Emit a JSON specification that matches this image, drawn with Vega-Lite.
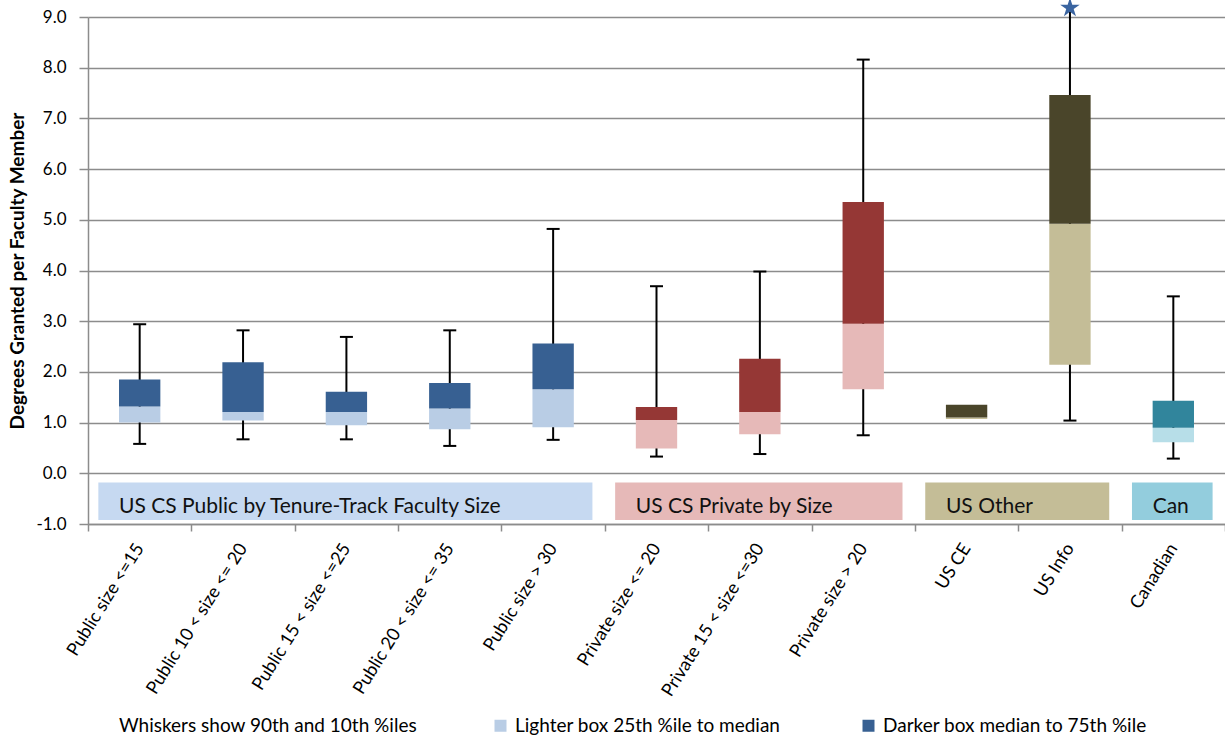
{
  "$schema": "https://vega.github.io/schema/vega-lite/v6.json",
  "width": 1137,
  "height": 507,
  "autosize": "none",
  "padding": {"left": 88, "top": 17, "right": 0, "bottom": 215},
  "background": "white",
  "config": {
    "view": {"stroke": null},
    "font": "Lato",
    "axisX": {
      "labelAngle": -58,
      "labelFontSize": 18,
      "labelColor": "#000",
      "labelLimit": 300,
      "labelPadding": 14,
      "tickBand": "extent",
      "tickSize": 7,
      "tickColor": "#8c8c8c",
      "tickWidth": 1.5,
      "domainColor": "#8c8c8c",
      "domainWidth": 1.5,
      "grid": false
    },
    "axisY": {
      "values": [-1, 0, 1, 2, 3, 4, 5, 6, 7, 8, 9],
      "format": ".1f",
      "labelExpr": "replace(datum.label, '\u2212', '-')",
      "labelFontSize": 17,
      "labelColor": "#000",
      "labelPadding": 13,
      "tickSize": 9,
      "tickColor": "#8c8c8c",
      "tickWidth": 1.5,
      "domainColor": "#8c8c8c",
      "domainWidth": 1.5,
      "grid": true,
      "gridColor": "#8c8c8c",
      "gridWidth": 1.4,
      "gridOpacity": 1,
      "titleFontSize": 19,
      "titleFontWeight": "bold",
      "titleColor": "#000",
      "titlePadding": 8
    }
  },
  "datasets": {
    "whiskers": [
      {"cat": "Public size <=15", "p10": 0.58, "p90": 2.94},
      {"cat": "Public 10 < size <= 20", "p10": 0.67, "p90": 2.82},
      {"cat": "Public 15 < size <=25", "p10": 0.67, "p90": 2.69},
      {"cat": "Public 20 < size <= 35", "p10": 0.54, "p90": 2.82},
      {"cat": "Public size > 30", "p10": 0.66, "p90": 4.82},
      {"cat": "Private size <= 20", "p10": 0.33, "p90": 3.69},
      {"cat": "Private 15 < size <=30", "p10": 0.38, "p90": 3.98},
      {"cat": "Private size > 20", "p10": 0.75, "p90": 8.16},
      {"cat": "US CE", "p10": null, "p90": null},
      {"cat": "US Info", "p10": 1.04, "p90": 9.18},
      {"cat": "Canadian", "p10": 0.29, "p90": 3.49}
    ],
    "segments": [
      {"cat": "Public size <=15", "part": "Lighter box  25th %ile to median", "lo": 1.00, "hi": 1.32},
      {"cat": "Public size <=15", "part": "Darker box  median to 75th %ile", "lo": 1.32, "hi": 1.85},
      {"cat": "Public 10 < size <= 20", "part": "Lighter box  25th %ile to median", "lo": 1.04, "hi": 1.21},
      {"cat": "Public 10 < size <= 20", "part": "Darker box  median to 75th %ile", "lo": 1.21, "hi": 2.19},
      {"cat": "Public 15 < size <=25", "part": "Lighter box  25th %ile to median", "lo": 0.95, "hi": 1.21},
      {"cat": "Public 15 < size <=25", "part": "Darker box  median to 75th %ile", "lo": 1.21, "hi": 1.61},
      {"cat": "Public 20 < size <= 35", "part": "Lighter box  25th %ile to median", "lo": 0.87, "hi": 1.28},
      {"cat": "Public 20 < size <= 35", "part": "Darker box  median to 75th %ile", "lo": 1.28, "hi": 1.78},
      {"cat": "Public size > 30", "part": "Lighter box  25th %ile to median", "lo": 0.91, "hi": 1.66},
      {"cat": "Public size > 30", "part": "Darker box  median to 75th %ile", "lo": 1.66, "hi": 2.56},
      {"cat": "Private size <= 20", "part": "Private lighter", "lo": 0.49, "hi": 1.05},
      {"cat": "Private size <= 20", "part": "Private darker", "lo": 1.05, "hi": 1.31},
      {"cat": "Private 15 < size <=30", "part": "Private lighter", "lo": 0.77, "hi": 1.21},
      {"cat": "Private 15 < size <=30", "part": "Private darker", "lo": 1.21, "hi": 2.26},
      {"cat": "Private size > 20", "part": "Private lighter", "lo": 1.66, "hi": 2.95},
      {"cat": "Private size > 20", "part": "Private darker", "lo": 2.95, "hi": 5.35},
      {"cat": "US CE", "part": "Other lighter", "lo": 1.07, "hi": 1.10},
      {"cat": "US CE", "part": "Other darker", "lo": 1.10, "hi": 1.35},
      {"cat": "US Info", "part": "Other lighter", "lo": 2.14, "hi": 4.92},
      {"cat": "US Info", "part": "Other darker", "lo": 4.92, "hi": 7.46},
      {"cat": "Canadian", "part": "Canadian lighter", "lo": 0.61, "hi": 0.90},
      {"cat": "Canadian", "part": "Canadian darker", "lo": 0.90, "hi": 1.43}
    ],
    "groups": [
      {"label": "US CS Public by Tenure-Track Faculty Size", "grp": "Public", "first": "Public size <=15", "last": "Public size > 30"},
      {"label": "US CS Private by Size", "grp": "Private", "first": "Private size <= 20", "last": "Private size > 20"},
      {"label": "US Other", "grp": "Other", "first": "US CE", "last": "US Info"},
      {"label": "Can", "grp": "Canadian", "first": "Canadian", "last": "Canadian"}
    ]
  },
  "layer": [
    {
      "data": {"name": "groups"},
      "mark": {"type": "rect"},
      "encoding": {
        "x": {
          "field": "first",
          "type": "nominal",
          "bandPosition": 0.1,
          "title": null,
          "scale": {
            "domain": ["Public size <=15", "Public 10 < size <= 20", "Public 15 < size <=25", "Public 20 < size <= 35", "Public size > 30", "Private size <= 20", "Private 15 < size <=30", "Private size > 20", "US CE", "US Info", "Canadian"],
            "paddingInner": 0,
            "paddingOuter": 0
          }
        },
        "x2": {"field": "last", "bandPosition": 0.88},
        "y": {
          "datum": -0.18,
          "type": "quantitative",
          "title": "Degrees Granted per Faculty Member",
          "scale": {"domain": [-1, 9], "nice": false, "zero": false}
        },
        "y2": {"datum": -0.92},
        "fill": {
          "field": "grp",
          "type": "nominal",
          "scale": {
            "domain": ["Public", "Private", "Other", "Canadian"],
            "range": ["#c6d9f1", "#e6b9b8", "#c4bd97", "#93cddd"]
          },
          "legend": null
        }
      }
    },
    {
      "data": {"name": "groups"},
      "mark": {"type": "text", "align": "left", "baseline": "alphabetic", "fontSize": 21, "color": "#111"},
      "encoding": {
        "x": {"field": "first", "type": "nominal", "bandPosition": 0.3, "title": null},
        "y": {"datum": -0.78, "type": "quantitative", "title": "Degrees Granted per Faculty Member"},
        "text": {"field": "label"}
      }
    },
    {
      "data": {"name": "whiskers"},
      "mark": {"type": "rule", "color": "black", "strokeWidth": 2},
      "encoding": {
        "x": {"field": "cat", "type": "nominal", "title": null},
        "y": {"field": "p10", "type": "quantitative", "title": "Degrees Granted per Faculty Member"},
        "y2": {"field": "p90"}
      }
    },
    {
      "data": {"name": "whiskers"},
      "mark": {"type": "tick", "color": "black", "size": 13, "thickness": 2, "opacity": 1},
      "encoding": {
        "x": {"field": "cat", "type": "nominal", "title": null},
        "y": {"field": "p10", "type": "quantitative", "title": "Degrees Granted per Faculty Member"}
      }
    },
    {
      "data": {"name": "whiskers"},
      "transform": [{"filter": "datum.cat != 'US Info'"}],
      "mark": {"type": "tick", "color": "black", "size": 13, "thickness": 2, "opacity": 1},
      "encoding": {
        "x": {"field": "cat", "type": "nominal", "title": null},
        "y": {"field": "p90", "type": "quantitative", "title": "Degrees Granted per Faculty Member"}
      }
    },
    {
      "data": {"name": "segments"},
      "mark": {"type": "bar", "width": {"band": 0.4}, "opacity": 1},
      "encoding": {
        "x": {"field": "cat", "type": "nominal", "title": null},
        "y": {"field": "lo", "type": "quantitative", "title": "Degrees Granted per Faculty Member"},
        "y2": {"field": "hi"},
        "color": {
          "field": "part",
          "type": "nominal",
          "scale": {
            "domain": ["Whiskers show 90th and 10th %iles", "Lighter box  25th %ile to median", "Darker box  median to 75th %ile", "Private lighter", "Private darker", "Other lighter", "Other darker", "Canadian lighter", "Canadian darker"],
            "range": ["transparent", "#b9cde5", "#376092", "#e6b9b8", "#953735", "#c4bd97", "#4a452a", "#b7dee8", "#31859c"]
          },
          "legend": {
            "orient": "none",
            "legendX": 7,
            "legendY": 699,
            "direction": "horizontal",
            "columns": 3,
            "values": ["Whiskers show 90th and 10th %iles", "Lighter box  25th %ile to median", "Darker box  median to 75th %ile"],
            "title": null,
            "symbolType": "square",
            "symbolSize": 144,
            "symbolStrokeWidth": 0,
            "labelFontSize": 19,
            "labelColor": "#000",
            "labelLimit": 400,
            "labelOffset": 5,
            "columnPadding": 73,
            "gridAlign": "each",
            "padding": 0
          }
        }
      }
    },
    {
      "data": {"name": "whiskers"},
      "transform": [{"filter": "datum.cat == 'US Info'"}],
      "mark": {
        "type": "point",
        "shape": "M0,-1L0.2245,-0.309L0.951,-0.309L0.3633,0.118L0.5878,0.809L0,0.382L-0.5878,0.809L-0.3633,0.118L-0.951,-0.309L-0.2245,-0.309Z",
        "size": 420,
        "filled": true,
        "color": "#3a64a0",
        "opacity": 1
      },
      "encoding": {
        "x": {"field": "cat", "type": "nominal", "title": null},
        "y": {"field": "p90", "type": "quantitative", "title": "Degrees Granted per Faculty Member"}
      }
    }
  ]
}
